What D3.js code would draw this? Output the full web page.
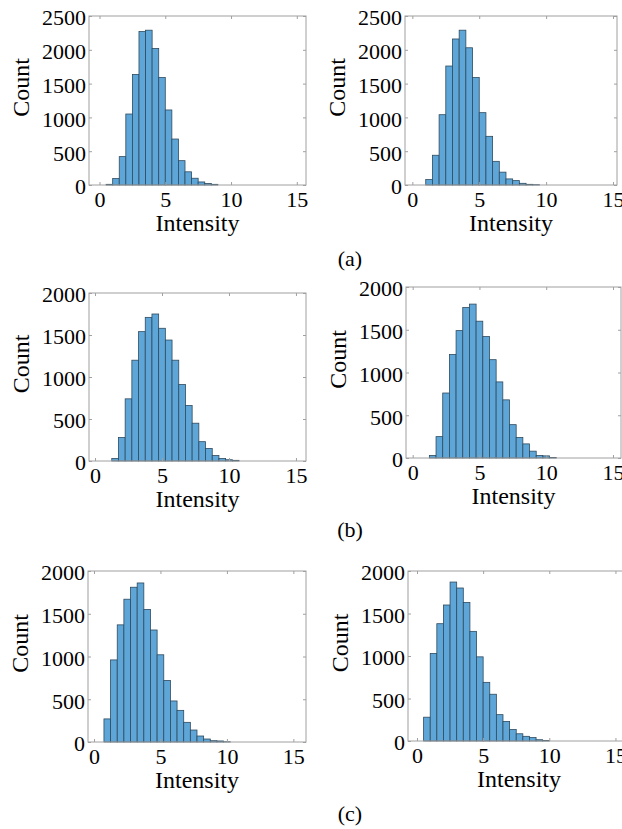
<!DOCTYPE html>
<html>
<head>
<meta charset="utf-8">
<script src="https://cdn.jsdelivr.net/npm/d3@7"></script>
<style>
  body { margin: 0; background: #fff; }
  svg { display: block; }
</style>
</head>
<body>
<script>
// histogram counts, bin width 0.5
var binWidth = 0.5;
var countsAL = [10, 95, 420, 1050, 1635, 2270, 2290, 2020, 1590, 1110, 680, 360, 195, 100, 45, 22, 10];
var countsAR = [80, 440, 1040, 1760, 2160, 2290, 2030, 1590, 1070, 720, 350, 190, 90, 65, 25, 10, 5];
var countsBL = [30, 280, 740, 1200, 1540, 1710, 1750, 1580, 1440, 1200, 910, 660, 450, 230, 150, 65, 30, 15, 8];
var countsBR = [30, 250, 760, 1210, 1490, 1760, 1800, 1600, 1420, 1150, 890, 680, 390, 240, 165, 80, 30, 25, 5];
var countsCL = [270, 960, 1370, 1670, 1810, 1860, 1550, 1310, 1020, 720, 480, 370, 230, 140, 70, 35, 15, 12, 3];
var countsCR = [280, 1030, 1380, 1600, 1870, 1800, 1630, 1290, 990, 690, 550, 310, 230, 135, 85, 55, 40, 15, 5];
// first bin edge of each histogram
var binStarts = [0.5, 1.0, 1.25, 1.25, 0.75, 0.5];

var xTicks = [0, 5, 10, 15];
var yTicksA = [0, 500, 1000, 1500, 2000, 2500];
var yTicksBC = [0, 500, 1000, 1500, 2000];
var panelLabels = ["(a)", "(b)", "(c)"];
var xLabel = "Intensity", yLabel = "Count";

var W = 622, H = 829;
var serif = "'Liberation Serif', 'Times New Roman', 'DejaVu Serif', serif";

var svg = d3.select("body").append("svg")
    .attr("width", W)
    .attr("height", H)
    .attr("font-family", serif);

// panel boxes (pixels) and x-limits of each axes
var panels = [
  {counts: countsAL, start: binStarts[0], yTicks: yTicksA, left: 89, right: 306, top: 16, bottom: 185, xMin: -0.8, xMax: 15.7},
  {counts: countsAR, start: binStarts[1], yTicks: yTicksA, left: 405, right: 617, top: 16, bottom: 185, xMin: -0.55, xMax: 15.3},
  {counts: countsBL, start: binStarts[2], yTicks: yTicksBC, left: 89, right: 306, top: 293, bottom: 461, xMin: -0.45, xMax: 15.75},
  {counts: countsBR, start: binStarts[3], yTicks: yTicksBC, left: 406, right: 621, top: 287, bottom: 458, xMin: -0.5, xMax: 15.6},
  {counts: countsCL, start: binStarts[4], yTicks: yTicksBC, left: 88, right: 306, top: 571, bottom: 742, xMin: -0.45, xMax: 15.95},
  {counts: countsCR, start: binStarts[5], yTicks: yTicksBC, left: 408, right: 630, top: 571, bottom: 741, xMin: -0.68, xMax: 16.1}
];

var axisGray = "#a0a0a0";

panels.forEach(function(p) {
  var x = d3.scaleLinear().domain([p.xMin, p.xMax]).range([p.left, p.right]);
  var y = d3.scaleLinear().domain([0, d3.max(p.yTicks)]).range([p.bottom, p.top]);
  var g = svg.append("g");

  var bins = p.counts.map(function(c, i) {
    return {x0: p.start + i * binWidth, x1: p.start + (i + 1) * binWidth, n: c};
  });

  g.selectAll(".bar")
    .data(bins)
    .enter().append("rect")
    .attr("class", "bar")
    .attr("x", function(d) { return x(d.x0); })
    .attr("y", function(d) { return y(d.n); })
    .attr("width", function(d) { return x(d.x1) - x(d.x0); })
    .attr("height", function(d) { return y(0) - y(d.n); })
    .style("fill", "#5fa6d8")
    .style("stroke", "#2e4a5e")
    .style("stroke-width", 0.8);

  // axes with inward ticks
  var fmt = d3.format("d");
  var xb = g.append("g")
    .attr("transform", "translate(0," + p.bottom + ")")
    .call(d3.axisBottom(x).tickValues(xTicks).tickSize(-3).tickPadding(6).tickFormat(fmt));
  var xt = g.append("g")
    .attr("transform", "translate(0," + p.top + ")")
    .call(d3.axisTop(x).tickValues(xTicks).tickSize(-3).tickFormat(""));
  var yl = g.append("g")
    .attr("transform", "translate(" + p.left + ",0)")
    .call(d3.axisLeft(y).tickValues(p.yTicks).tickSize(-3).tickPadding(3).tickFormat(fmt));
  var yr = g.append("g")
    .attr("transform", "translate(" + p.right + ",0)")
    .call(d3.axisRight(y).tickValues(p.yTicks).tickSize(-3).tickFormat(""));

  [xb, xt, yl, yr].forEach(function(a) {
    a.attr("font-family", serif).attr("font-size", 22);
    a.select(".domain").remove();
    a.selectAll("line").attr("stroke", axisGray);
    a.selectAll("text").attr("fill", "#000");
  });
  yl.selectAll("text").attr("dy", "0.4em");

  g.append("rect")
    .attr("x", p.left)
    .attr("y", p.top)
    .attr("width", p.right - p.left)
    .attr("height", p.bottom - p.top)
    .style("fill", "none")
    .style("stroke", axisGray)
    .style("stroke-width", 1);

  g.append("text")
    .attr("x", (p.left + p.right) / 2)
    .attr("y", p.bottom + 46)
    .attr("text-anchor", "middle")
    .attr("font-size", 24)
    .text(xLabel);

  g.append("text")
    .attr("transform", "translate(" + (p.left - 68) + "," + ((p.top + p.bottom) / 2 - 13) + ") rotate(-90)")
    .attr("text-anchor", "middle")
    .attr("dy", "0.35em")
    .attr("font-size", 24)
    .text(yLabel);
});

var labelY = [266, 537, 821];
svg.selectAll(".plabel")
  .data(panelLabels)
  .enter().append("text")
  .attr("class", "plabel")
  .attr("x", 350)
  .attr("y", function(d, i) { return labelY[i]; })
  .attr("text-anchor", "middle")
  .attr("font-size", 22)
  .text(function(d) { return d; });
</script>
</body>
</html>
